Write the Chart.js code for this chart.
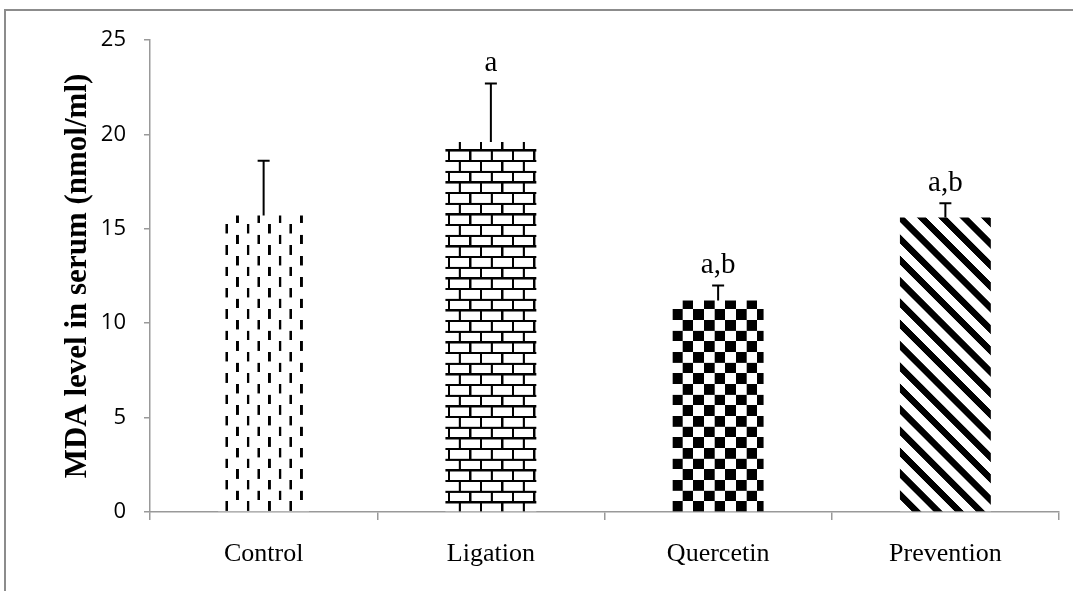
<!DOCTYPE html>
<html>
<head>
<meta charset="utf-8">
<script src="https://cdn.jsdelivr.net/npm/chart.js"></script>
<style>
  html, body { margin: 0; padding: 0; background: #fff; overflow: hidden; }
  canvas { display: block; }
</style>
</head>
<body>
<canvas id="chart" width="1073" height="591"></canvas>
<script>
// values
const categories = ["Control", "Ligation", "Quercetin", "Prevention"];
const meanValues = [15.7, 19.6, 11.2, 15.6];
const sdValues = [2.9, 3.1, 0.8, 0.75];
const sigLabels = ["", "a", "a,b", "a,b"];
const yMin = 0, yMax = 25, yStep = 5;

// pattern tiles (Excel-like fills), drawn at 3x then scaled down
const TILE = 21.33;
const K = 3;
function makePattern(draw) {
  const c = document.createElement("canvas");
  c.width = Math.round(TILE * K);
  c.height = Math.round(TILE * K);
  const g = c.getContext("2d");
  g.fillStyle = "#fff";
  g.fillRect(0, 0, c.width, c.height);
  g.scale(c.width / TILE, c.height / TILE);
  g.fillStyle = "#000";
  g.strokeStyle = "#000";
  draw(g, TILE);
  const p = document.createElement("canvas").getContext("2d").createPattern(c, "repeat");
  p.setTransform(new DOMMatrix().scale(TILE / c.width, TILE / c.height));
  return p;
}

const dashPattern = makePattern((g, T) => {
  g.fillRect(1.5, 0, 2.6, 9.5);
  g.fillRect(1.5 + T / 2, T / 2, 2.6, 9.5);
});
const brickPattern = makePattern((g, T) => {
  g.fillRect(0, 0, T, 2.2);
  g.fillRect(0, T / 2, T, 2.2);
  g.fillRect(0, 0, 2.2, T / 2);
  g.fillRect(T / 2, T / 2, 2.2, T / 2);
});
const checkPattern = makePattern((g, T) => {
  g.fillRect(0, 0, T / 2, T / 2);
  g.fillRect(T / 2, T / 2, T / 2, T / 2);
});
const stripePattern = makePattern((g, T) => {
  g.lineWidth = 6.5;
  g.lineCap = "square";
  for (const o of [-T, 0, T]) {
    g.beginPath();
    g.moveTo(o - 2, -2);
    g.lineTo(o + T + 2, T + 2);
    g.stroke();
  }
});
const fills = [dashPattern, brickPattern, checkPattern, stripePattern];

// page frame: top and left edges of the document box
const pageFrame = {
  id: "pageFrame",
  beforeDraw(chart) {
    const ctx = chart.ctx;
    ctx.save();
    ctx.strokeStyle = "#8c8c8c";
    ctx.lineWidth = 2;
    ctx.beginPath();
    ctx.moveTo(5, chart.height);
    ctx.lineTo(5, 10);
    ctx.lineTo(chart.width, 10);
    ctx.stroke();
    ctx.restore();
  }
};

const errorBars = {
  id: "errorBars",
  afterDatasetsDraw(chart) {
    const ctx = chart.ctx;
    const meta = chart.getDatasetMeta(0);
    const y = chart.scales.y;
    ctx.save();
    ctx.strokeStyle = "#000";
    ctx.lineWidth = 2;
    meta.data.forEach((bar, i) => {
      const top = y.getPixelForValue(meanValues[i]);
      const hi = y.getPixelForValue(meanValues[i] + sdValues[i]);
      ctx.beginPath();
      ctx.moveTo(bar.x, top);
      ctx.lineTo(bar.x, hi);
      ctx.moveTo(bar.x - 6, hi);
      ctx.lineTo(bar.x + 6, hi);
      ctx.stroke();
      if (sigLabels[i]) {
        ctx.fillStyle = "#000";
        ctx.font = "29px 'Liberation Serif', 'Times New Roman', serif";
        ctx.textAlign = "center";
        ctx.textBaseline = "alphabetic";
        ctx.fillText(sigLabels[i], bar.x, hi - 12);
      }
    });
    ctx.restore();
  }
};

new Chart(document.getElementById("chart"), {
  type: "bar",
  data: {
    labels: categories,
    datasets: [{
      data: meanValues,
      backgroundColor: fills,
      borderWidth: 0,
      barPercentage: 0.4,
      categoryPercentage: 1.0
    }]
  },
  options: {
    responsive: false,
    animation: false,
    devicePixelRatio: 1,
    layout: { padding: { left: 58, top: 40, right: 14, bottom: 0 } },
    plugins: { legend: { display: false }, tooltip: { enabled: false } },
    scales: {
      x: {
        afterFit(scale) { scale.height = 79; },
        grid: { offset: true, drawOnChartArea: false, drawTicks: true, tickLength: 8, color: "#999", lineWidth: 1.5 },
        border: { color: "#999", width: 1.5 },
        ticks: { color: "#000", padding: 19, font: { family: "'Liberation Serif', 'Times New Roman', serif", size: 26 } }
      },
      y: {
        min: yMin, max: yMax,
        afterFit(scale) { scale.width = 92; },
        grid: { drawOnChartArea: false, drawTicks: true, tickLength: 6, color: "#999", lineWidth: 1.5 },
        border: { color: "#999", width: 1.5 },
        ticks: { stepSize: yStep, color: "#000", padding: 18, font: { family: "'Open Sans', sans-serif", size: 22 } },
        title: {
          display: true,
          text: "MDA level in serum (nmol/ml)",
          color: "#000",
          padding: { top: 1, bottom: 0 },
          font: { family: "'Liberation Serif', 'Times New Roman', serif", size: 31, weight: "bold" }
        }
      }
    }
  },
  plugins: [pageFrame, errorBars]
});
</script>
</body>
</html>
